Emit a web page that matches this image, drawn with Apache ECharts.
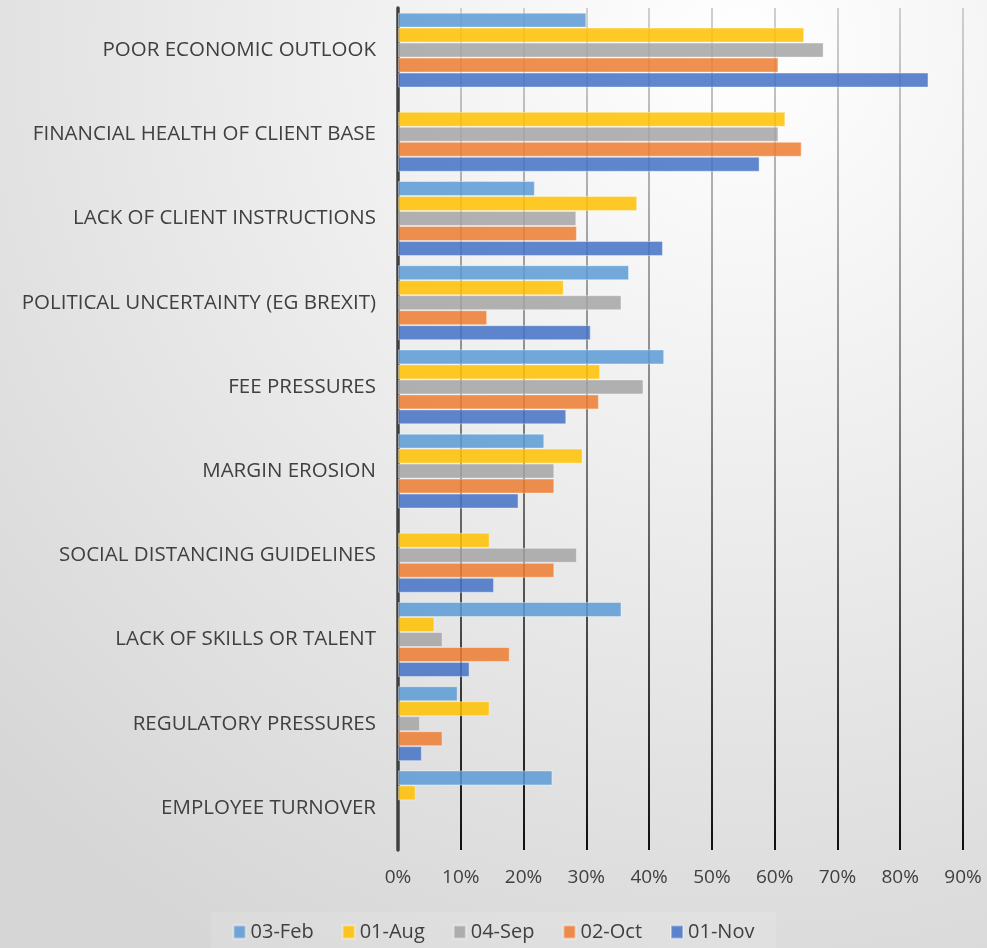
<!DOCTYPE html>
<html>
<head>
<meta charset="utf-8">
<style>
  html, body { margin: 0; padding: 0; }
  #chart { width: 987px; height: 948px; }
</style>
<script src="https://cdn.jsdelivr.net/npm/echarts@6/dist/echarts.min.js"></script>
</head>
<body>
<div id="chart"></div>
<script>
// Business pressures, share of respondents per survey wave
const categories = [
  'POOR ECONOMIC OUTLOOK',
  'FINANCIAL HEALTH OF CLIENT BASE',
  'LACK OF CLIENT INSTRUCTIONS',
  'POLITICAL UNCERTAINTY (EG BREXIT)',
  'FEE PRESSURES',
  'MARGIN EROSION',
  'SOCIAL DISTANCING GUIDELINES',
  'LACK OF SKILLS OR TALENT',
  'REGULATORY PRESSURES',
  'EMPLOYEE TURNOVER'
];

const seriesNames = ['03-Feb', '01-Aug', '04-Sep', '02-Oct', '01-Nov'];

const feb03 = [0.300, null, 0.218, 0.368, 0.424, 0.233, null, 0.356, 0.095, 0.246];
const aug01 = [0.647, 0.617, 0.381, 0.264, 0.322, 0.294, 0.146, 0.058, 0.146, 0.028];
const sep04 = [0.678, 0.606, 0.284, 0.356, 0.391, 0.249, 0.285, 0.071, 0.035, null];
const oct02 = [0.606, 0.643, 0.285, 0.142, 0.320, 0.249, 0.249, 0.178, 0.071, null];
const nov01 = [0.845, 0.576, 0.422, 0.307, 0.268, 0.192, 0.153, 0.114, 0.038, null];

const tickValues = [0, 0.1, 0.2, 0.3, 0.4, 0.5, 0.6, 0.7, 0.8, 0.9];

const seriesData = [feb03, aug01, sep04, oct02, nov01];
const colors = ['#5B9BD5', '#FFC000', '#A5A5A5', '#ED7D31', '#4472C4'];

const chart = echarts.init(document.getElementById('chart'), null, { renderer: 'canvas' });

const textColor = '#404040';
const fontFamily = '"Open Sans", "Noto Sans", sans-serif';

const option = {
  animation: false,
  backgroundColor: new echarts.graphic.RadialGradient(0.75, 0.05, 1.1, [
    { offset: 0, color: '#ffffff' },
    { offset: 1, color: '#d6d6d6' }
  ]),
  color: colors,
  grid: { left: 398, right: 24, top: 8, bottom: 98, containLabel: false },
  legend: {
    data: seriesNames,
    top: 912,
    left: 'center',
    itemWidth: 12,
    itemHeight: 13,
    itemGap: 28,
    padding: [10, 22, 10, 22],
    backgroundColor: 'rgba(255,255,255,0.12)',
    icon: 'rect',
    textStyle: { color: textColor, fontSize: 20, fontFamily: fontFamily, padding: [0, 0, 0, 0] }
  },
  xAxis: {
    type: 'value',
    min: 0,
    max: 0.9,
    interval: 0.1,
    axisLine: { show: false },
    axisTick: { show: false },
    axisLabel: {
      color: textColor,
      fontSize: 19,
      fontFamily: fontFamily,
      margin: 18,
      formatter: function (v) {
        const t = tickValues.find(function (x) { return Math.abs(x - v) < 1e-9; });
        return Math.round((t !== undefined ? t : v) * 100) + '%';
      }
    },
    splitLine: {
      show: true,
      lineStyle: {
        width: 2,
        color: new echarts.graphic.LinearGradient(0, 8, 0, 850, [
          { offset: 0, color: '#cfcfcf' },
          { offset: 0.45, color: '#8a8a8a' },
          { offset: 1, color: '#101010' }
        ], true)
      }
    }
  },
  yAxis: {
    type: 'category',
    data: categories,
    inverse: true,
    axisTick: { show: false },
    axisLine: { show: true, lineStyle: { color: '#404040', width: 3.5 } },
    axisLabel: {
      color: textColor,
      fontSize: 20.5,
      fontFamily: fontFamily,
      margin: 22
    }
  },
  series: seriesNames.map(function (name, i) {
    return {
      name: name,
      type: 'bar',
      data: seriesData[i],
      barGap: '0%',
      barCategoryGap: '11%',
      itemStyle: {
        color: colors[i],
        opacity: 0.85,
        borderColor: 'rgba(255,255,255,0.45)',
        borderWidth: 1
      }
    };
  })
};

chart.setOption(option);
</script>
</body>
</html>
